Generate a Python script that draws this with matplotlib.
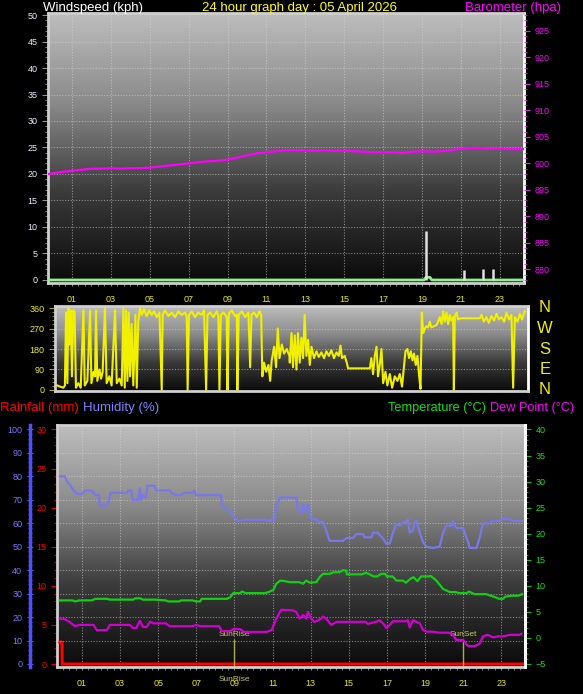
import numpy as np
import matplotlib
matplotlib.use('Agg')
import matplotlib.pyplot as plt
from matplotlib.colors import LinearSegmentedColormap
from matplotlib.ticker import MultipleLocator
import matplotlib.transforms as mtrans

plt.rcParams['font.family'] = ['Liberation Sans', 'DejaVu Sans']

# ---- data ----
title = '24 hour graph day : 05 April 2026'
hour_ticks = [1, 3, 5, 7, 9, 11, 13, 15, 17, 19, 21, 23]
hour_labels = ['01', '03', '05', '07', '09', '11', '13', '15', '17', '19', '21', '23']

baro_hours = [-0.2, 0.5, 1.0, 1.5, 2.0, 2.5, 3.0, 3.5, 4.0, 4.5, 5.0, 5.5, 6.0, 6.5, 7.0,
              7.5, 8.0, 8.5, 9.0, 9.5, 10.0, 10.5, 11.0, 11.5, 12.0, 12.5, 13.0, 13.5,
              14.0, 14.5, 15.0, 15.5, 16.0, 16.5, 17.0, 17.5, 18.0, 18.5, 19.0, 19.5,
              20.0, 20.5, 21.0, 21.5, 22.0, 22.5, 23.0, 23.5, 24.2]
baro_hpa = [898.0, 898.4, 898.6, 898.8, 899.0, 899.0, 899.1, 899.0, 899.1, 899.1, 899.2,
            899.4, 899.6, 899.8, 900.0, 900.2, 900.4, 900.5, 900.7, 901.1, 901.5, 901.9,
            902.1, 902.3, 902.5, 902.5, 902.5, 902.4, 902.5, 902.4, 902.4, 902.3, 902.2,
            902.1, 902.1, 902.1, 902.0, 902.2, 902.3, 902.2, 902.3, 902.5, 902.8, 902.9,
            902.9, 902.8, 902.8, 902.7, 902.7]

wind_hours = [-0.2, 19.1, 19.2, 19.4, 19.5, 24.2]
wind_kph = [0, 0, 0.5, 0.5, 0, 0]
gust_hours = [19.2, 21.14, 22.15, 22.66]
gust_kph = [9.2, 1.8, 2.0, 2.0]

dir_hours = [-0.3, -0.16, 0.02, 0.1, 0.16, 0.23, 0.28, 0.33, 0.4, 0.47, 0.54, 0.61, 0.68,
             0.8, 0.93, 1.07, 1.14, 1.28, 1.42, 1.49, 1.6, 1.68, 1.73, 1.8, 1.91, 2.0,
             2.08, 2.2, 2.29, 2.43, 2.55, 2.73, 2.82, 2.96, 3.08, 3.17, 3.24, 3.31, 3.38,
             3.45, 3.52, 3.6, 3.69, 3.8, 3.87, 3.95, 4.04, 4.13, 4.25, 4.39, 4.53, 4.65,
             4.78, 4.92, 5.06, 5.18, 5.23, 5.35, 5.53, 5.7, 5.88, 6.05, 6.23, 6.4, 6.49,
             6.54, 6.61, 6.75, 6.93, 7.1, 7.28, 7.4, 7.51, 7.58, 7.72, 7.89, 8.07, 8.15,
             8.21, 8.28, 8.42, 8.59, 8.63, 8.7, 8.85, 9.03, 9.12, 9.15, 9.22, 9.38, 9.56,
             9.73, 9.82, 9.89, 10.03, 10.17, 10.31, 10.4, 10.46, 10.55, 10.66, 10.78,
             10.87, 10.95, 11.08, 11.18, 11.27, 11.36, 11.48, 11.6, 11.74, 11.88,
             11.9, 11.99, 12.07, 12.16, 12.25, 12.33, 12.42, 12.51, 12.6, 12.68, 12.77,
             12.86, 12.95, 13.04, 13.17, 13.3, 13.42, 13.56, 13.7, 13.82, 13.95, 14.08,
             14.22, 14.35, 14.47, 14.56, 14.64, 14.78, 14.89, 14.96, 15.31, 15.66, 16.1,
             16.18, 16.27, 16.36, 16.45, 16.53, 16.62, 16.71, 16.8, 16.92, 17.02, 17.15,
             17.27, 17.41, 17.55, 17.67, 17.79, 17.9, 17.97, 18.07, 18.16, 18.25, 18.34,
             18.42, 18.51, 18.6, 18.69, 18.76, 18.83, 18.9, 18.98, 19.07, 19.16, 19.25,
             19.33, 19.47, 19.6, 19.68, 19.77, 19.86, 19.95, 20.03, 20.12, 20.21, 20.3,
             20.38, 20.47, 20.51, 20.56, 20.65, 20.73, 20.91, 21.35, 21.87, 21.96, 22.08,
             22.22, 22.34, 22.48, 22.62, 22.75, 22.87, 23.01, 23.15, 23.27, 23.4, 23.53,
             23.62, 23.71, 23.85, 23.97, 24.09, 24.23]
dir_deg = [20, 15, 10, 20, 340, 30, 360, 200, 350, 60, 350, 340, 10,
           30, 10, 350, 20, 40, 350, 30, 80, 60, 350, 40, 90, 50,
           80, 360, 30, 60, 20, 350, 30, 50, 20, 360, 10, 350, 40,
           340, 60, 290, 20, 330, 10, 300, 360, 330, 355, 325, 350, 330,
           345, 320, 340, 0, 330, 350, 325, 340, 320, 345, 330, 340, 325,
           0, 330, 345, 320, 340, 330, 350, 0, 330, 340, 320, 345, 325,
           0, 330, 340, 320, 0, 335, 350, 325, 330, 0, 330, 345, 320,
           340, 100, 330, 340, 320, 345, 330, 60, 120, 80, 110,
           40, 130, 190, 100, 270, 140, 200, 160, 180, 150,
           120, 250, 100, 240, 90, 250, 120, 230, 140, 330, 150,
           220, 110, 190, 140, 170, 145, 165, 140, 170, 150, 175,
           140, 165, 150, 195, 140, 150, 120, 95, 95, 95, 95,
           140, 70, 150, 190, 60, 110, 180, 30, 80, 20, 70,
           10, 60, 40, 70, 15, 110, 170, 180, 140, 170, 130,
           160, 110, 150, 60, 5, 340, 250, 270, 280, 275, 300,
           275, 280, 285, 300, 320, 290, 345, 300, 340, 290, 330,
           305, 320, 0, 325, 340, 310, 315, 315, 315, 330, 300,
           320, 295, 325, 305, 335, 310, 320, 300, 340, 310, 330,
           10, 320, 300, 335, 310, 345]
compass = ['N', 'W', 'S', 'E', 'N']

rain_hours = [-0.16, -0.05, -0.04, 24.2]
rain_mm = [2.8, 2.8, 0, 0]

hum_hours = [-0.16, 0.1, 0.2, 0.4, 0.55, 0.75, 1.0, 1.15, 1.5, 1.7, 1.9, 1.94, 2.3, 2.4,
             2.5, 3.35, 3.45, 3.6, 3.65, 3.95, 4.04, 4.1, 4.2, 4.35, 4.45, 4.8, 4.9, 5.6,
             5.7, 5.9, 6.2, 6.35, 6.8, 6.9, 7.0, 8.3, 8.33, 8.6, 8.8, 8.94, 9.2, 9.64,
             10.6, 10.9, 11.0, 11.1, 11.2, 11.4, 12.25, 12.33, 12.51, 12.6, 12.77, 12.86,
             12.95, 13.03, 13.3, 13.39, 13.65, 13.82, 14.0, 14.7, 14.87, 15.22, 15.4,
             15.75, 15.83, 16.19, 16.27, 16.53, 16.62, 16.8, 16.97, 17.15, 17.32, 17.5,
             17.67, 17.85, 18.02, 18.1, 18.2, 18.37, 18.46, 18.55, 18.73, 18.9, 19.07,
             19.4, 19.77, 19.95, 20.12, 20.4, 20.47, 20.55, 20.65, 21.0, 21.26, 21.35,
             21.7, 21.87, 22.04, 22.4, 22.48, 22.92, 23.0, 23.45, 23.6, 24.15]
hum_pct = [80, 80, 78, 76, 74, 72.5, 72.5, 74, 74, 72, 72, 67.5, 67.5, 69,
           73, 73, 74, 74, 70, 70, 75, 70, 72, 71, 76, 76, 74, 74,
           73, 72, 72, 73, 73, 74, 72, 72, 67.5, 66, 65, 63, 61, 61.5,
           61.5, 61, 62, 61, 67.5, 71, 71, 66, 64, 68, 65, 68,
           64, 61.7, 61.7, 60.6, 60.6, 56.8, 52.5, 52.5, 53.7, 53.7, 55.4,
           55.4, 54, 54, 56, 56, 55, 53.5, 51.3, 51.3, 56, 59.7,
           59, 60.6, 60.6, 61.7, 56, 57, 60.6, 61, 56, 52, 50,
           49.5, 50, 56, 59, 59, 61, 59, 58, 58, 52, 49.5,
           49.5, 53.7, 60, 60, 61, 61, 61.8, 61.8, 61, 61]

temp_hours = [-0.16, 0.5, 0.65, 0.85, 1.5, 1.7, 2.3, 2.47, 3.7, 3.8, 4.05, 4.2, 4.8, 5.4,
              5.53, 6.1, 6.2, 6.8, 7.0, 7.2, 7.28, 8.6, 8.8, 8.94, 9.3, 9.4, 9.6, 10.6,
              10.8, 11.04, 11.2, 11.4, 11.65, 11.9, 12.4, 12.6, 12.77, 12.95, 13.3, 13.47,
              13.65, 14.0, 14.2, 14.5, 14.7, 14.87, 14.9, 15.7, 15.9, 16.1, 16.3, 16.5,
              16.7, 16.9, 17.0, 17.3, 17.5, 17.85, 18.0, 18.25, 18.4, 18.6, 18.8, 19.2,
              19.3, 19.6, 19.95, 20.3, 20.6, 20.8, 21.2, 21.3, 21.6, 22.2, 22.7, 22.9,
              23.1, 23.2, 23.55, 23.9, 24.1]
temp_c = [7.2, 7.2, 7.0, 7.2, 7.2, 7.5, 7.5, 7.35, 7.35, 7.6, 7.6, 7.35, 7.35, 7.2,
          7.0, 7.0, 7.2, 7.2, 7.0, 7.0, 7.5, 7.5, 7.85, 8.6, 8.6, 8.9, 8.6, 8.6,
          8.8, 9.2, 10.4, 11.0, 10.9, 10.7, 10.7, 10.4, 11.0, 10.6, 10.7, 11.65,
          12.3, 12.3, 12.6, 12.6, 13.0, 12.9, 12.2, 12.2, 12.5, 12.2, 11.8, 11.8,
          12.3, 12.3, 11.8, 11.8, 11.0, 11.0, 10.6, 11.4, 11.65, 10.9, 11.8, 11.8,
          11.9, 11.0, 9.4, 8.8, 8.8, 8.6, 8.6, 8.9, 8.4, 8.4, 7.8, 7.5,
          7.5, 7.9, 8.1, 8.1, 8.4]

dew_hours = [-0.16, 0.1, 0.35, 0.63, 0.9, 1.6, 1.78, 2.3, 2.47, 3.5, 3.7, 3.85, 4.04, 4.2,
             4.4, 4.57, 4.75, 5.4, 5.6, 6.8, 7.0, 7.2, 8.2, 8.33, 8.8, 8.94, 9.3, 9.5,
             10.7, 10.95, 11.2, 11.45, 12.07, 12.25, 12.42, 12.6, 12.77, 12.86, 13.03,
             13.2, 13.47, 13.65, 13.82, 14.08, 14.35, 15.9, 16.0, 16.45, 16.62, 16.8,
             16.97, 17.15, 17.32, 18.0, 18.1, 18.2, 18.37, 18.55, 18.73, 18.9, 19.07,
             19.4, 19.77, 20.3, 20.47, 20.65, 21.0, 21.26, 21.6, 21.87, 22.04, 22.3,
             22.57, 22.83, 23.1, 23.45, 23.97, 24.06]
dew_c = [3.7, 3.6, 3.07, 2.25, 2.5, 2.5, 1.5, 1.5, 2.5, 2.5, 1.9, 1.9, 3.3, 2.1,
         2.1, 3.1, 2.8, 2.8, 2.25, 2.25, 2.5, 2.25, 2.25, 1.3, 1.3, 1.7, 1.7, 1.16,
         1.16, 1.5, 3.7, 5.4, 5.3, 5.0, 3.7, 4.4, 3.7, 5.0, 3.7,
         3.07, 3.5, 4.1, 3.7, 2.5, 3.07, 3.07, 2.7, 3.1, 3.4, 2.8,
         1.9, 2.5, 3.2, 3.2, 3.4, 2.0, 3.4, 3.1, 2.8, 1.5, 1.2,
         1.2, 1.0, 1.0, 0.6, -0.4, -0.4, -1.57, -1.57, -1.1, 0.3, 0.6,
         0.1, 0.3, 0.3, 0.6, 0.6, 0.8]

sunrise_hour = 9.0
sunset_hour = 21.0

# ---- figure ----
W, H = 583, 694
fig = plt.figure(figsize=(W / 100, H / 100), dpi=100, facecolor='black')

def box(l, t, r, b):
    return [l / W, 1 - b / H, (r - l) / W, (b - t) / H]

grad = LinearSegmentedColormap.from_list('bg', ['#0a0a0a', '#3a3a3a', '#8a8a8a', '#bdbdbd'])
gimg = np.linspace(0, 1, 256).reshape(-1, 1)

def panel(ax):
    ax.set_facecolor('black')
    ax.imshow(gimg, cmap=grad, origin='lower', aspect='auto', extent=[0, 1, 0, 1],
              transform=ax.transAxes, zorder=0)
    for s in ['left', 'top', 'bottom']:
        ax.spines[s].set_color('#cfcfcf')
        ax.spines[s].set_linewidth(2)
    ax.spines['right'].set_color('white')
    ax.spines['right'].set_linewidth(2)

gridkw = dict(color='#d8d8d8', lw=0.8, ls=(0, (1, 1.5)), alpha=0.55, zorder=1)

# top panel: windspeed + barometer
ax1 = fig.add_axes(box(48, 13, 524, 283))
panel(ax1)
ax1.set_xlim(-0.23, 24.24)
ax1.set_ylim(-0.57, 50.38)
for hh in hour_ticks:
    ax1.axvline(hh, **gridkw)
for v in range(5, 50, 5):
    ax1.axhline(v, **gridkw)
ax1.plot(wind_hours, wind_kph, color='#90ee90', lw=2, zorder=3)
ax1.vlines(gust_hours, 0, gust_kph, color='#e0e0e0', lw=1.8, zorder=3)
ax1.set_xticks(hour_ticks)
ax1.set_xticklabels(hour_labels)
ax1.xaxis.set_minor_locator(MultipleLocator(1 / 3))
ax1.set_yticks(range(0, 51, 5))
ax1.yaxis.set_minor_locator(MultipleLocator(1))
ax1.tick_params(axis='x', which='both', colors='#909090', labelcolor='#e8e800',
                labelsize=6.5, length=2, pad=7)
ax1.tick_params(axis='y', which='major', colors='#909090', labelcolor='#e8eeff',
                labelsize=6.5, length=4)
ax1.tick_params(axis='y', which='minor', colors='#909090', length=2)

ax1b = ax1.twinx()
ax1b.set_ylim(877.43, 928.38)
ax1b.plot(baro_hours, baro_hpa, color='#ff00ff', lw=1.6, zorder=4)
ax1b.set_yticks(range(880, 926, 5))
ax1b.yaxis.set_minor_locator(MultipleLocator(1))
ax1b.tick_params(axis='y', which='major', colors='#cc33cc', labelcolor='#ff00ff',
                 labelsize=6.5, length=4)
ax1b.tick_params(axis='y', which='minor', colors='#cc33cc', length=2)
for s in ax1b.spines.values():
    s.set_visible(False)

# middle panel: wind direction
ax2 = fig.add_axes(box(55, 306, 528, 391))
panel(ax2)
ax2.set_xlim(-0.42, 24.4)
ax2.set_ylim(-4.4, 368.8)
for v in [90, 180, 270]:
    ax2.axhline(v, **gridkw)
ax2.plot(dir_hours, dir_deg, color='#f0f000', lw=1.5, zorder=3)
ax2.set_xticks([])
ax2.set_yticks([0, 90, 180, 270, 360])
ax2.yaxis.set_minor_locator(MultipleLocator(18))
ax2.tick_params(axis='y', which='major', colors='#a8a800', labelcolor='#f0f000',
                labelsize=6.5, length=4)
ax2.tick_params(axis='y', which='minor', colors='#a8a800', length=2)
for i, c in enumerate(compass):
    fig.text(545 / W, 1 - (308 + i * 20.5) / H, c, color='#f0f000', fontsize=12,
             ha='center', va='center')

# bottom panel: rain / humidity / temperature / dew point
ax3 = fig.add_axes(box(57, 425, 525, 667))
panel(ax3)
ax3.set_xlim(-0.31, 24.25)
ax3.set_ylim(-0.38, 30.57)
ax3.plot(rain_hours, rain_mm, color='#ff0000', lw=2.2, zorder=5)
ax3.set_xticks(hour_ticks)
ax3.set_xticklabels(hour_labels)
ax3.xaxis.set_minor_locator(MultipleLocator(1 / 3))
ax3.tick_params(axis='x', which='both', colors='#909090', labelcolor='#e8e800',
                labelsize=6.5, length=2, pad=7)
ax3.set_yticks(range(0, 31, 5))
ax3.yaxis.set_minor_locator(MultipleLocator(1))
ax3.tick_params(axis='y', which='major', colors='#e00000', labelcolor='#ff0000',
                labelsize=6.5, length=4)
ax3.tick_params(axis='y', which='minor', colors='#e00000', length=2)
for hh in hour_ticks:
    ax3.axvline(hh, **gridkw)

ax3h = ax3.twinx()
ax3h.set_ylim(-1.28, 101.9)
for v in range(10, 100, 10):
    ax3h.axhline(v, **gridkw)
ax3h.plot(hum_hours, hum_pct, color='#7878e8', lw=1.6, zorder=3)
ax3h.spines['left'].set_position(('axes', -0.058))
ax3h.spines['left'].set_visible(True)
ax3h.spines['left'].set_color('#5050ff')
ax3h.spines['left'].set_linewidth(2.5)
ax3h.spines['right'].set_visible(False)
ax3h.spines['top'].set_visible(False)
ax3h.spines['bottom'].set_visible(False)
ax3h.yaxis.set_ticks_position('left')
ax3h.set_yticks(range(0, 101, 10))
ax3h.yaxis.set_minor_locator(MultipleLocator(2))
ax3h.tick_params(axis='y', which='major', colors='#5050ff', labelcolor='#7878ff',
                 labelsize=6.5, length=4, direction='inout')
ax3h.tick_params(axis='y', which='minor', colors='#5050ff', length=3, direction='inout')

ax3t = ax3.twinx()
ax3t.set_ylim(-5.58, 40.86)
ax3t.plot(temp_hours, temp_c, color='#10d010', lw=1.6, zorder=4)
ax3t.plot(dew_hours, dew_c, color='#d000d0', lw=1.6, zorder=4)
for s in ['left', 'top', 'bottom']:
    ax3t.spines[s].set_visible(False)
ax3t.spines['right'].set_color('white')
ax3t.spines['right'].set_linewidth(2)
ax3t.set_yticks(range(-5, 41, 5))
ax3t.yaxis.set_minor_locator(MultipleLocator(1))
ax3t.tick_params(axis='y', which='major', colors='#10c010', labelcolor='#10e010',
                 labelsize=6.5, length=4)
ax3t.tick_params(axis='y', which='minor', colors='#10c010', length=2)

# sun rise / set markers
sun_col = '#c8c850'
tr = mtrans.blended_transform_factory(ax3.transData, ax3.transAxes)
for hh, name in [(sunrise_hour, 'SunRise'), (sunset_hour, 'SunSet')]:
    ax3.plot([hh, hh], [0, 0.11], color=sun_col, lw=1, alpha=0.8, transform=tr, zorder=6)
    ax3.text(hh, 0.12, name, color=sun_col, fontsize=6, ha='center', va='bottom',
             transform=tr, zorder=6)
ax3.text(sunrise_hour, -0.05, 'SunRise', color=sun_col, fontsize=6, ha='center',
         va='center', transform=tr, clip_on=False)

# header texts
fig.text(43 / W, 1 - 8 / H, 'Windspeed (kph)', color='white', fontsize=9.5, va='center')
fig.text(300 / W, 1 - 8 / H, title, color='#ffff00', fontsize=9.5, va='center', ha='center')
fig.text(561 / W, 1 - 8 / H, 'Barometer (hpa)', color='#ff00ff', fontsize=9.5,
         va='center', ha='right')
fig.text(0 / W, 1 - 408 / H, 'Rainfall (mm)', color='#ff0000', fontsize=9.5, va='center')
fig.text(83 / W, 1 - 408 / H, 'Humidity (%)', color='#8080ff', fontsize=9.5, va='center')
fig.text(388 / W, 1 - 408 / H, 'Temperature (°C)', color='#10e010', fontsize=9.2,
         va='center')
fig.text(574 / W, 1 - 408 / H, 'Dew Point (°C)', color='#ff00ff', fontsize=9.2,
         va='center', ha='right')

fig.savefig('out.png', dpi=100, facecolor='black')
